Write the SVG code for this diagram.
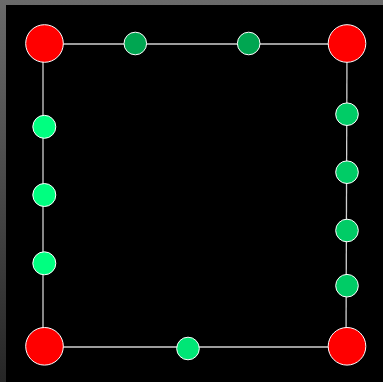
<svg xmlns="http://www.w3.org/2000/svg" width="383" height="382" viewBox="0 0 383 382">
<defs>
<linearGradient id="bg" x1="0" y1="0" x2="0" y2="1">
<stop offset="0" stop-color="#6a6a6a"/>
<stop offset="1" stop-color="#262626"/>
</linearGradient>
<style>
.edge{stroke:#d0d0d0;stroke-width:1.3;fill:none}
.n{stroke:#ffffff;stroke-width:1}
.red{fill:#ff0000}
.g1{fill:#00a651}
.g2{fill:#00e676}
.g3{fill:#00cc66}
.g4{fill:#00ff80}
</style>
</defs>
<rect x="0" y="0" width="383" height="382" fill="url(#bg)"/>
<rect x="6" y="5" width="377" height="377" fill="#000000"/>
<g id="connectors">
<line class="edge" x1="44" y1="44" x2="347" y2="44"/>
<line class="edge" x1="347" y1="44" x2="346" y2="347"/>
<line class="edge" x1="44" y1="347" x2="346" y2="347"/>
<line class="edge" x1="43" y1="44" x2="43" y2="347"/>
</g>
<g id="tl"><circle class="n red" cx="44.5" cy="43.5" r="18.8"/></g>
<g id="tr"><circle class="n red" cx="347" cy="43.5" r="18.8"/></g>
<g id="bl"><circle class="n red" cx="44.5" cy="346.3" r="18.8"/></g>
<g id="br"><circle class="n red" cx="347" cy="346.3" r="18.8"/></g>
<g id="t1"><circle class="n g1" cx="135.3" cy="43.5" r="11.3"/></g>
<g id="t2"><circle class="n g1" cx="248.7" cy="43.5" r="11.3"/></g>
<g id="b1"><circle class="n g2" cx="188" cy="348.5" r="11.3"/></g>
<g id="r1"><circle class="n g3" cx="347" cy="114.2" r="11.3"/></g>
<g id="r2"><circle class="n g3" cx="347" cy="172.2" r="11.3"/></g>
<g id="r3"><circle class="n g3" cx="347" cy="230.5" r="11.3"/></g>
<g id="r4"><circle class="n g3" cx="347" cy="285.7" r="11.3"/></g>
<g id="l1"><circle class="n g4" cx="44.3" cy="126.8" r="11.5"/></g>
<g id="l2"><circle class="n g4" cx="44.3" cy="195" r="11.5"/></g>
<g id="l3"><circle class="n g4" cx="44.3" cy="263.3" r="11.5"/></g>
</svg>
